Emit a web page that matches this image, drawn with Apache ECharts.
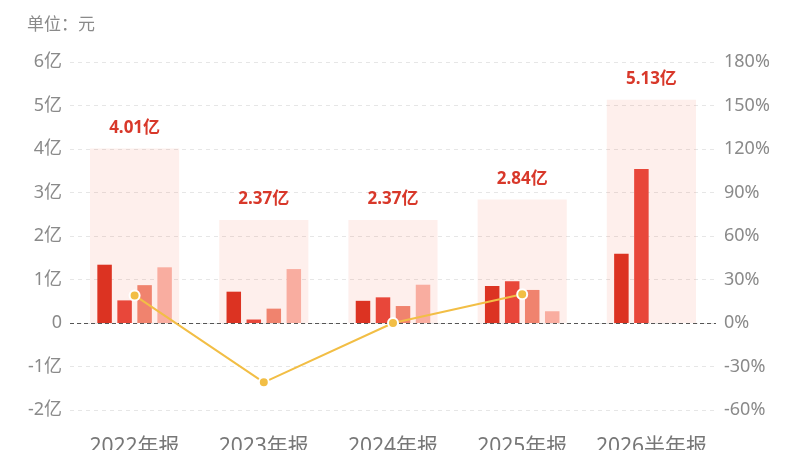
<!DOCTYPE html>
<html>
<head>
<meta charset="utf-8">
<script src="https://cdn.jsdelivr.net/npm/echarts@6/dist/echarts.min.js"></script>
<style>
  html, body { margin: 0; padding: 0; background: #fff; }
  #chart { width: 800px; height: 450px; }
</style>
</head>
<body>
<div id="chart"></div>
<script>
// 报告期
const categories = ['2022年报', '2023年报', '2024年报', '2025年报', '2026半年报']
// 全年合计（亿元）
const totals = [4.01, 2.37, 2.37, 2.84, 5.13]
// 各季度（亿元）
const q1 = [1.34, 0.72, 0.51, 0.85, 1.59]
const q2 = [0.52, 0.08, 0.59, 0.96, 3.54]
const q3 = [0.87, 0.33, 0.39, 0.76, null]
const q4 = [1.28, 1.24, 0.88, 0.27, null]
// 同比增长（%）
const yoy = [19, -40.9, 0, 19.8, null]
// 坐标轴刻度
const leftTicks = { min: -2, max: 6, interval: 1 }
const rightTicks = { min: -60, max: 180, interval: 30 }

const chart = echarts.init(document.getElementById('chart'))
const font = '"Noto Sans", "Noto Sans CJK SC", sans-serif'
const quarterColors = ['#dc3322', '#e8473a', '#f0836e', '#f9ada0']

const quarterSeries = [q1, q2, q3, q4].map((d, i) => ({
  type: 'bar',
  xAxisIndex: 0,
  yAxisIndex: 0,
  barWidth: 14.5,
  barGap: '38%',
  itemStyle: { color: quarterColors[i] },
  data: d,
  z: 3
}))

const option = {
  animation: false,
  textStyle: { fontFamily: font },
  title: {
    text: '单位：元',
    left: 22,
    top: 12,
    textStyle: { fontSize: 17, fontWeight: 'normal', color: '#8a8a8a', fontFamily: font }
  },
  grid: { left: 70, right: 84, top: 62, bottom: 40, containLabel: false, outerBoundsMode: 'none' },
  xAxis: [
    {
      type: 'category',
      data: categories,
      axisLine: { show: false },
      axisTick: { show: false },
      axisLabel: { interval: 0, fontSize: 21, color: '#777', margin: 27, fontFamily: font }
    },
    {
      type: 'category',
      data: categories,
      show: false
    }
  ],
  yAxis: [
    {
      type: 'value',
      min: leftTicks.min,
      max: leftTicks.max,
      interval: leftTicks.interval,
      axisLine: { show: false },
      axisTick: { show: false },
      axisLabel: {
        fontSize: 18,
        color: '#8a8a8a',
        margin: 8,
        fontFamily: font,
        formatter: v => v === 0 ? '0' : v + '亿'
      },
      splitLine: { lineStyle: { color: '#e6e6e6', type: [4, 4] } }
    },
    {
      type: 'value',
      min: rightTicks.min,
      max: rightTicks.max,
      interval: rightTicks.interval,
      axisLine: { show: false },
      axisTick: { show: false },
      axisLabel: {
        fontSize: 18,
        color: '#8a8a8a',
        margin: 8,
        fontFamily: font,
        formatter: v => v + '%'
      },
      splitLine: { show: false }
    }
  ],
  series: [
    {
      type: 'bar',
      xAxisIndex: 1,
      yAxisIndex: 0,
      barWidth: '69%',
      itemStyle: { color: 'rgba(250, 110, 85, 0.11)' },
      label: {
        show: true,
        position: 'top',
        distance: 12,
        fontSize: 17,
        fontWeight: 'bold',
        color: '#d8382a',
        fontFamily: font,
        formatter: p => p.value.toFixed(2) + '亿'
      },
      data: totals,
      z: 1
    },
    ...quarterSeries,
    {
      type: 'line',
      xAxisIndex: 0,
      yAxisIndex: 1,
      data: yoy,
      symbol: 'circle',
      symbolSize: 10,
      lineStyle: { color: '#f2be45', width: 2 },
      itemStyle: { color: '#f2be45', borderColor: '#fff', borderWidth: 2 },
      z: 5,
      markLine: {
        silent: true,
        symbol: 'none',
        label: { show: false },
        lineStyle: { color: '#555', type: [4, 3], width: 1 },
        data: [{ yAxis: 0 }]
      }
    }
  ]
}

chart.setOption(option)
</script>
</body>
</html>
